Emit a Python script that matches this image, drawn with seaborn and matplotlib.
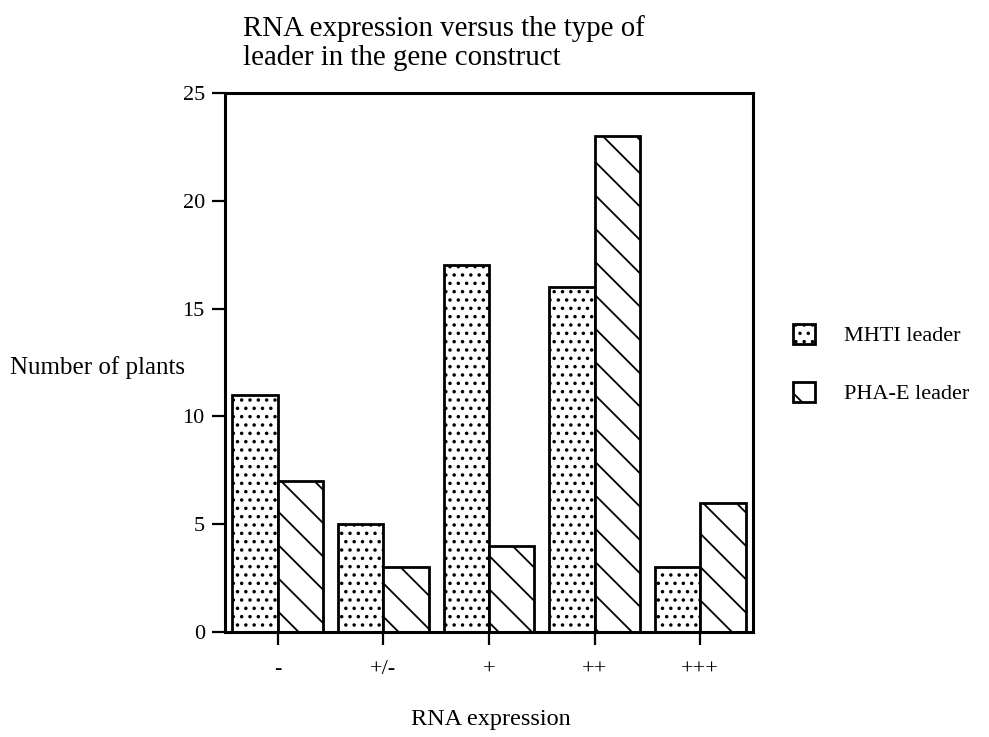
import numpy as np
import pandas as pd
import matplotlib
matplotlib.use("Agg")
import matplotlib.pyplot as plt
import seaborn as sns
from matplotlib.patches import Patch

# data
categories = ["-", "+/-", "+", "++", "+++"]
mhti_values = [11, 5, 17, 16, 3]
pha_values = [7, 3, 4, 23, 6]
series_names = ["MHTI leader", "PHA-E leader"]
hatches = ["..", "\\"]

df = pd.DataFrame({
    "expr": categories * 2,
    "plants": mhti_values + pha_values,
    "leader": [series_names[0]] * 5 + [series_names[1]] * 5,
})

sns.set_style("white")
plt.rcParams["font.family"] = ["Liberation Serif", "DejaVu Serif"]
plt.rcParams["hatch.linewidth"] = 1.3
plt.rcParams["text.color"] = "black"
plt.rcParams["axes.labelcolor"] = "black"

fig = plt.figure(figsize=(9.89, 7.37), dpi=100)
ax = fig.add_axes([0.2275, 0.1425, 0.534, 0.7313])

sns.barplot(data=df, x="expr", y="plants", hue="leader", order=categories,
            hue_order=series_names, palette=["white", "white"], width=0.86,
            edgecolor="black", linewidth=2, ax=ax, legend=False, saturation=1)

# hatch each series
for i, container in enumerate(ax.containers):
    for bar in container:
        bar.set_hatch(hatches[i])
        bar.set_edgecolor("black")

ax.set_xlim(-0.5, 4.5)
ax.set_ylim(0, 25)
ax.set_yticks([0, 5, 10, 15, 20, 25])
for s in ax.spines.values():
    s.set_visible(True)
    s.set_linewidth(2.2)
    s.set_color("black")
ax.tick_params(axis="both", direction="out", length=9.5, width=1.6,
               labelsize=16, colors="black", left=True, bottom=True)
ax.tick_params(axis="x", pad=11)
ax.tick_params(axis="y", pad=5)

ax.set_xlabel("RNA expression", fontsize=17.5, color="black")
ax.xaxis.set_label_coords(0.504, -0.142)
ax.set_ylabel("Number of plants", fontsize=18, rotation=0, ha="center",
              va="center", color="black")
ax.yaxis.set_label_coords(-0.2415, 0.49)

fig.text(0.2457, 0.9037, "RNA expression versus the type of\nleader in the gene construct",
         fontsize=20.8, ha="left", va="bottom", linespacing=1.17, color="black")

handles = [Patch(facecolor="white", edgecolor="black", hatch=h, linewidth=2)
           for h in hatches]
leg = fig.legend(handles, series_names, loc="center left",
                 bbox_to_anchor=(0.802, 0.506), frameon=False, fontsize=16,
                 borderpad=0, borderaxespad=0,
                 handlelength=1.0, handleheight=1.0, handletextpad=1.3,
                 labelspacing=1.6)
for t in leg.get_texts():
    t.set_color("black")

fig.savefig("out.png", dpi=100)
